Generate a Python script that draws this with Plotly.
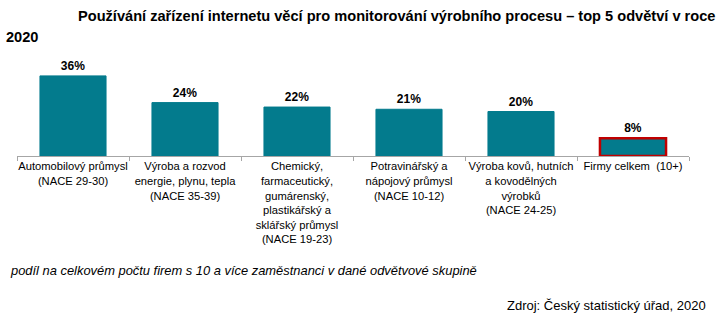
import plotly.graph_objects as go

categories = [
    "Automobilový průmysl<br>(NACE 29-30)",
    "Výroba a rozvod<br>energie, plynu, tepla<br>(NACE 35-39)",
    "Chemický,<br>farmaceutický,<br>gumárenský,<br>plastikářský a<br>sklářský průmysl<br>(NACE 19-23)",
    "Potravinářský a<br>nápojový průmysl<br>(NACE 10-12)",
    "Výroba kovů, hutních<br>a kovodělných<br>výrobků<br>(NACE 24-25)",
    "Firmy celkem  (10+)",
]
values = [36, 24, 22, 21, 20, 8]
labels = ["36%", "24%", "22%", "21%", "20%", "8%"]

W, H = 726, 322
L, R, T, B = 17, 37, 67, 166
pw = W - L - R
ph = H - T - B

def px(x):
    return (x - L) / pw

def py(y):
    return (H - B - y) / ph

teal = "#037B8D"
line_colors = [teal] * 5 + ["#C00000"]
line_widths = [1] * 5 + [2.5]

fig = go.Figure(go.Bar(
    x=categories, y=values, text=labels, textposition="outside",
    marker=dict(color=teal, line=dict(color=line_colors, width=line_widths)),
    width=0.59,
    textfont=dict(family="Liberation Sans", size=12, color="#000000", weight="bold"),
    cliponaxis=False,
))

fig.update_layout(
    width=W, height=H,
    margin=dict(l=L, r=R, t=T, b=B),
    paper_bgcolor="white", plot_bgcolor="white",
    showlegend=False,
    font=dict(family="Liberation Sans", size=12, color="#000000"),
    xaxis=dict(
        showline=True, linecolor="#A6A6A6", linewidth=1,
        ticks="outside", ticklen=4, tickcolor="#A6A6A6", tickson="boundaries",
        tickangle=0,
        tickfont=dict(size=11.2, family="Liberation Sans", color="#000000"),
        showgrid=False, fixedrange=True,
    ),
    yaxis=dict(range=[0, 40], visible=False, showgrid=False, fixedrange=True),
    annotations=[
        dict(text="<b>Používání zařízení internetu věcí pro monitorování výrobního procesu – top 5 odvětví v roce</b>",
             xref="paper", yref="paper", x=px(717), y=py(16), xanchor="right", yanchor="middle",
             showarrow=False, font=dict(size=14.6, family="Liberation Sans", color="#000000")),
        dict(text="<b>2020</b>",
             xref="paper", yref="paper", x=px(4), y=py(37), xanchor="left", yanchor="middle",
             showarrow=False, font=dict(size=14.6, family="Liberation Sans", color="#000000")),
        dict(text="<i>podíl na celkovém počtu firem s 10 a více zaměstnanci v dané odvětvové skupině</i>",
             xref="paper", yref="paper", x=px(8), y=py(270), xanchor="left", yanchor="middle",
             showarrow=False, font=dict(size=12.9, family="Liberation Sans", color="#000000")),
        dict(text="Zdroj: Český statistický úřad, 2020",
             xref="paper", yref="paper", x=px(708), y=py(305), xanchor="right", yanchor="middle",
             showarrow=False, font=dict(size=13, family="Liberation Sans", color="#000000")),
    ],
)

fig.write_html("out.html")
